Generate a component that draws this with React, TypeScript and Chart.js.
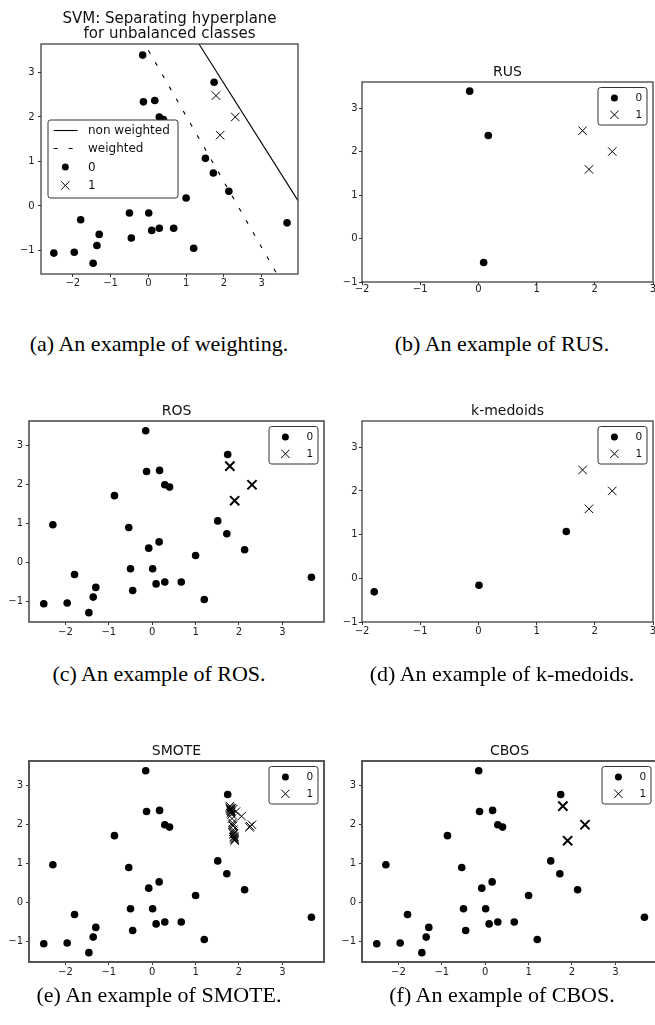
import React, { useEffect, useRef } from 'react';
import { Chart, registerables } from 'chart.js';

Chart.register(...registerables);

// ---------------- data ----------------
const CLASS0_X = [-0.15, -0.13, 0.17, 0.29, 0.40, -0.87, -2.29, -0.54, -0.08, 0.16, 1.00, 1.74, 1.51, 1.72, 2.13, 3.67, -0.50, 0.01, 0.09, 0.29, 0.67, -0.45, 1.20, -1.79, -1.30, -1.36, -1.46, -1.96, -2.50];
const CLASS0_Y = [3.39, 2.34, 2.37, 2.00, 1.94, 1.72, 0.97, 0.90, 0.37, 0.53, 0.18, 2.78, 1.07, 0.74, 0.33, -0.38, -0.16, -0.16, -0.55, -0.50, -0.50, -0.72, -0.95, -0.31, -0.64, -0.89, -1.29, -1.04, -1.06];
const CLASS1_X = [1.79, 1.90, 2.30];
const CLASS1_Y = [2.48, 1.59, 2.00];

// subset panels (b = RUS, d = k-medoids)
const RUS0_X = [-0.15, 0.17, 0.09];
const RUS0_Y = [3.39, 2.37, -0.55];
const KMED0_X = [-1.79, 0.01, 1.51];
const KMED0_Y = [-0.31, -0.16, 1.07];

// SMOTE minority class: originals + synthetic samples
const SMOTE1_X = [1.79, 1.90, 2.30, 1.80, 1.81, 1.79, 1.82, 1.80, 1.81, 1.83, 1.84, 1.82, 1.85, 1.86, 1.85, 1.87, 1.87, 1.88, 1.89, 1.89, 1.90, 1.89, 1.88, 1.87, 1.93, 2.06, 1.84, 2.24, 2.26];
const SMOTE1_Y = [2.48, 1.59, 2.00, 2.42, 2.38, 2.44, 2.33, 2.40, 2.36, 2.27, 2.16, 2.30, 2.05, 1.97, 2.00, 1.87, 1.82, 1.75, 1.68, 1.65, 1.62, 1.70, 1.78, 2.40, 2.34, 2.22, 2.43, 1.94, 1.96];

// separating hyperplanes (panel a)
const NONWEIGHTED_X = [1.34, 3.96];
const NONWEIGHTED_Y = [3.64, 0.12];
const WEIGHTED_X = [0.0, 3.41];
const WEIGHTED_Y = [3.50, -1.54];

// ticks
const X_TICKS = [-2, -1, 0, 1, 2, 3];
const Y_TICKS = [-1, 0, 1, 2, 3];

// ranges
const FULL_X_RANGE = [-2.84, 3.96];
const FULL_Y_RANGE = [-1.53, 3.64];
const SUB_X_RANGE = [-2, 3];
const SUB_Y_RANGE = [-1, 3.6];

// texts
const TITLE_A = ['SVM: Separating hyperplane', 'for unbalanced classes'];
const TITLE_B = ['RUS'];
const TITLE_C = ['ROS'];
const TITLE_D = ['k-medoids'];
const TITLE_E = ['SMOTE'];
const TITLE_F = ['CBOS'];
const LEGEND_A = ['non weighted', 'weighted', '0', '1'];
const LEGEND_SMALL = ['0', '1'];
const CAPTIONS = [
  '(a) An example of weighting.',
  '(b) An example of RUS.',
  '(c) An example of ROS.',
  '(d) An example of k-medoids.',
  '(e) An example of SMOTE.',
  '(f) An example of CBOS.',
];

// ---------------- helpers ----------------
const FONT = '"DejaVu Sans", "Noto Sans", sans-serif';
const pts = (xs: number[], ys: number[]) => xs.map((x, i) => ({ x, y: ys[i] }));
const fmt = (v: number) => (v < 0 ? '\u2212' + Math.abs(v) : String(v));

const dots = (xs: number[], ys: number[]) => ({
  data: pts(xs, ys),
  pointStyle: 'circle',
  pointRadius: 3.8,
  pointBackgroundColor: '#000',
  pointBorderColor: '#000',
  pointBorderWidth: 0,
  showLine: false,
});
const crosses = (xs: number[], ys: number[], bold: boolean) => ({
  data: pts(xs, ys),
  pointStyle: 'crossRot',
  pointRadius: bold ? 6.5 : 6,
  pointBackgroundColor: '#000',
  pointBorderColor: '#000',
  pointBorderWidth: bold ? 2 : 1,
  showLine: false,
});
const line = (xs: number[], ys: number[], dash: number[]) => ({
  data: pts(xs, ys),
  showLine: true,
  borderColor: '#000',
  borderWidth: 1.1,
  borderDash: dash,
  pointRadius: 0,
});

type Rect = { left: number; top: number; w: number; h: number };
type Area = { l: number; t: number; r: number; b: number };
type LegendSpec = {
  anchor: 'left' | 'right';
  dx: number;
  dy: number;
  w: number;
  h: number;
  rows: number[];
  markerX: number;
  lineX0: number;
  lineX1: number;
  textX: number;
  font: number;
  labels: string[];
  kinds: string[];
};
type PanelSpec = {
  cv: Rect;
  ca: Area;
  xr: number[];
  yr: number[];
  title: string[];
  titleSize: number;
  datasets: any[];
  legend: LegendSpec;
  frameColor: string;
  frameWidth: number;
  xPad: number;
  yPad: number;
};

const legendA: LegendSpec = {
  anchor: 'left', dx: 7, dy: 0, w: 130, h: 78,
  rows: [10.5, 28.5, 47, 65.5], markerX: 17.3, lineX0: 5.6, lineX1: 29.6, textX: 40, font: 12,
  labels: LEGEND_A, kinds: ['line', 'dash', 'dot', 'cross'],
};
const legendSmall: LegendSpec = {
  anchor: 'right', dx: 6, dy: 5.5, w: 49, h: 37.5,
  rows: [10.5, 27.3], markerX: 16.4, lineX0: 0, lineX1: 0, textX: 37.5, font: 10.5,
  labels: LEGEND_SMALL, kinds: ['dot', 'cross'],
};

const PANELS: PanelSpec[] = [
  {
    cv: { left: 0, top: 0, w: 335, h: 320 }, ca: { l: 41, t: 44, r: 298, b: 274 },
    xr: FULL_X_RANGE, yr: FULL_Y_RANGE, title: TITLE_A, titleSize: 15,
    datasets: [
      line(NONWEIGHTED_X, NONWEIGHTED_Y, []),
      line(WEIGHTED_X, WEIGHTED_Y, [4, 10]),
      dots(CLASS0_X, CLASS0_Y),
      crosses(CLASS1_X, CLASS1_Y, false),
    ],
    legend: legendA, frameColor: '#333', frameWidth: 1.2, xPad: 0.5, yPad: 3.3,
  },
  {
    cv: { left: 325, top: 40, w: 345, h: 280 }, ca: { l: 362, t: 82, r: 653, b: 282 },
    xr: SUB_X_RANGE, yr: SUB_Y_RANGE, title: TITLE_B, titleSize: 14,
    datasets: [dots(RUS0_X, RUS0_Y), crosses(CLASS1_X, CLASS1_Y, false)],
    legend: legendSmall, frameColor: '#333', frameWidth: 1.2, xPad: -2, yPad: 1.4,
  },
  {
    cv: { left: 0, top: 380, w: 335, h: 280 }, ca: { l: 29, t: 421, r: 324, b: 622 },
    xr: FULL_X_RANGE, yr: FULL_Y_RANGE, title: TITLE_C, titleSize: 14,
    datasets: [dots(CLASS0_X, CLASS0_Y), crosses(CLASS1_X, CLASS1_Y, true)],
    legend: legendSmall, frameColor: '#444', frameWidth: 1.5, xPad: 1.5, yPad: 3,
  },
  {
    cv: { left: 325, top: 380, w: 345, h: 280 }, ca: { l: 362, t: 421, r: 653, b: 622 },
    xr: SUB_X_RANGE, yr: SUB_Y_RANGE, title: TITLE_D, titleSize: 14,
    datasets: [dots(KMED0_X, KMED0_Y), crosses(CLASS1_X, CLASS1_Y, false)],
    legend: legendSmall, frameColor: '#333', frameWidth: 1.2, xPad: 0, yPad: 1.4,
  },
  {
    cv: { left: 0, top: 720, w: 335, h: 280 }, ca: { l: 29, t: 761, r: 324, b: 962 },
    xr: FULL_X_RANGE, yr: FULL_Y_RANGE, title: TITLE_E, titleSize: 14,
    datasets: [dots(CLASS0_X, CLASS0_Y), crosses(SMOTE1_X, SMOTE1_Y, false)],
    legend: legendSmall, frameColor: '#555', frameWidth: 2, xPad: 1.5, yPad: 3,
  },
  {
    cv: { left: 325, top: 720, w: 345, h: 280 }, ca: { l: 362, t: 761, r: 657, b: 962 },
    xr: FULL_X_RANGE, yr: FULL_Y_RANGE, title: TITLE_F, titleSize: 14,
    datasets: [dots(CLASS0_X, CLASS0_Y), crosses(CLASS1_X, CLASS1_Y, true)],
    legend: legendSmall, frameColor: '#555', frameWidth: 2, xPad: 1.5, yPad: 3,
  },
];

function drawLegend(ctx: CanvasRenderingContext2D, a: any, lg: LegendSpec) {
  const bx = lg.anchor === 'left' ? a.left + lg.dx : a.right - lg.dx - lg.w;
  const by = lg.anchor === 'left' ? (a.top + a.bottom) / 2 - lg.h / 2 : a.top + lg.dy;
  ctx.save();
  ctx.fillStyle = '#fff';
  ctx.strokeStyle = '#333';
  ctx.lineWidth = 1;
  ctx.beginPath();
  if ((ctx as any).roundRect) (ctx as any).roundRect(bx, by, lg.w, lg.h, 2.5);
  else ctx.rect(bx, by, lg.w, lg.h);
  ctx.fill();
  ctx.stroke();
  lg.labels.forEach((label, i) => {
    const y = by + lg.rows[i];
    const kind = lg.kinds[i];
    const mx = bx + lg.markerX;
    ctx.strokeStyle = '#000';
    ctx.fillStyle = '#000';
    if (kind === 'line' || kind === 'dash') {
      ctx.lineWidth = 1.1;
      ctx.setLineDash(kind === 'dash' ? [4, 11] : []);
      ctx.beginPath();
      ctx.moveTo(bx + lg.lineX0, y);
      ctx.lineTo(bx + lg.lineX1, y);
      ctx.stroke();
      ctx.setLineDash([]);
    } else if (kind === 'dot') {
      ctx.beginPath();
      ctx.arc(mx, y, 3.5, 0, Math.PI * 2);
      ctx.fill();
    } else {
      const h = 4.2;
      ctx.lineWidth = 1;
      ctx.beginPath();
      ctx.moveTo(mx - h, y - h);
      ctx.lineTo(mx + h, y + h);
      ctx.moveTo(mx - h, y + h);
      ctx.lineTo(mx + h, y - h);
      ctx.stroke();
    }
    ctx.font = `${lg.font}px ${FONT}`;
    ctx.textAlign = 'left';
    ctx.textBaseline = 'middle';
    ctx.fillStyle = '#111';
    ctx.fillText(label, bx + lg.textX, y + 0.5);
  });
  ctx.restore();
}

function buildConfig(p: PanelSpec): any {
  const yW = p.ca.l - p.cv.left - 2;
  const xH = 20;
  const tickFont = { family: FONT, size: 10 };
  const decor = {
    id: 'panelDecor',
    afterDatasetsDraw(chart: any) {
      const { ctx, chartArea: a } = chart;
      ctx.save();
      ctx.strokeStyle = p.frameColor;
      ctx.lineWidth = p.frameWidth;
      ctx.strokeRect(a.left, a.top, a.right - a.left, a.bottom - a.top);
      ctx.restore();
      drawLegend(ctx, a, p.legend);
    },
    afterDraw(chart: any) {
      const { ctx, chartArea: a } = chart;
      ctx.save();
      ctx.font = `${p.titleSize}px ${FONT}`;
      ctx.fillStyle = '#111';
      ctx.textAlign = 'center';
      ctx.textBaseline = 'middle';
      const cx = (a.left + a.right) / 2;
      const n = p.title.length;
      p.title.forEach((t, i) => {
        ctx.fillText(t, cx, a.top - 9.5 - (n - 1 - i) * 15.5);
      });
      ctx.restore();
    },
  };
  return {
    type: 'scatter',
    data: { datasets: p.datasets },
    options: {
      responsive: false,
      animation: false,
      events: [],
      layout: {
        padding: {
          left: 2,
          top: p.ca.t - p.cv.top,
          right: p.cv.left + p.cv.w - p.ca.r,
          bottom: p.cv.top + p.cv.h - p.ca.b - xH,
        },
      },
      plugins: {
        legend: { display: false },
        tooltip: { enabled: false },
        title: { display: false },
      },
      scales: {
        x: {
          type: 'linear',
          min: p.xr[0],
          max: p.xr[1],
          afterBuildTicks: (s: any) => {
            s.ticks = X_TICKS.map((v) => ({ value: v }));
          },
          afterFit: (s: any) => {
            s.height = xH;
          },
          ticks: {
            callback: (v: any) => fmt(Number(v)),
            font: tickFont,
            color: '#222',
            padding: p.xPad,
            maxRotation: 0,
            autoSkip: false,
          },
          grid: { display: true, drawOnChartArea: false, drawTicks: true, tickLength: 3, color: '#333', lineWidth: 1 },
          border: { display: false },
        },
        y: {
          type: 'linear',
          min: p.yr[0],
          max: p.yr[1],
          afterBuildTicks: (s: any) => {
            s.ticks = Y_TICKS.map((v) => ({ value: v }));
          },
          afterFit: (s: any) => {
            s.width = yW;
          },
          ticks: {
            callback: (v: any) => fmt(Number(v)),
            font: tickFont,
            color: '#222',
            padding: p.yPad,
            autoSkip: false,
          },
          grid: { display: true, drawOnChartArea: false, drawTicks: true, tickLength: 3, color: '#333', lineWidth: 1 },
          border: { display: false },
        },
      },
    },
    plugins: [decor],
  };
}

function Panel({ p }: { p: PanelSpec }) {
  const ref = useRef<HTMLCanvasElement>(null);
  useEffect(() => {
    const chart = new Chart(ref.current as HTMLCanvasElement, buildConfig(p));
    return () => chart.destroy();
  }, [p]);
  return (
    <canvas
      ref={ref}
      width={p.cv.w}
      height={p.cv.h}
      style={{ position: 'absolute', left: p.cv.left, top: p.cv.top, width: p.cv.w, height: p.cv.h }}
    />
  );
}

const CAPTION_CENTERS_X = [159, 502];
const CAPTION_BASELINES = [351, 681, 1002];

export default function App() {
  return (
    <div
      style={{
        position: 'absolute',
        left: 0,
        top: 0,
        width: 655,
        height: 1025,
        overflow: 'hidden',
        background: '#fff',
      }}
    >
      {PANELS.map((p, i) => (
        <Panel key={i} p={p} />
      ))}
      {CAPTIONS.map((c, i) => {
        const col = i % 2;
        const row = Math.floor(i / 2);
        return (
          <div
            key={'c' + i}
            style={{
              position: 'absolute',
              left: CAPTION_CENTERS_X[col] - 200,
              width: 400,
              top: CAPTION_BASELINES[row] - 18,
              lineHeight: '22px',
              fontSize: 22,
              fontFamily: '"Liberation Serif", "Times New Roman", serif',
              textAlign: 'center',
              color: '#000',
              whiteSpace: 'nowrap',
            }}
          >
            {c}
          </div>
        );
      })}
    </div>
  );
}
